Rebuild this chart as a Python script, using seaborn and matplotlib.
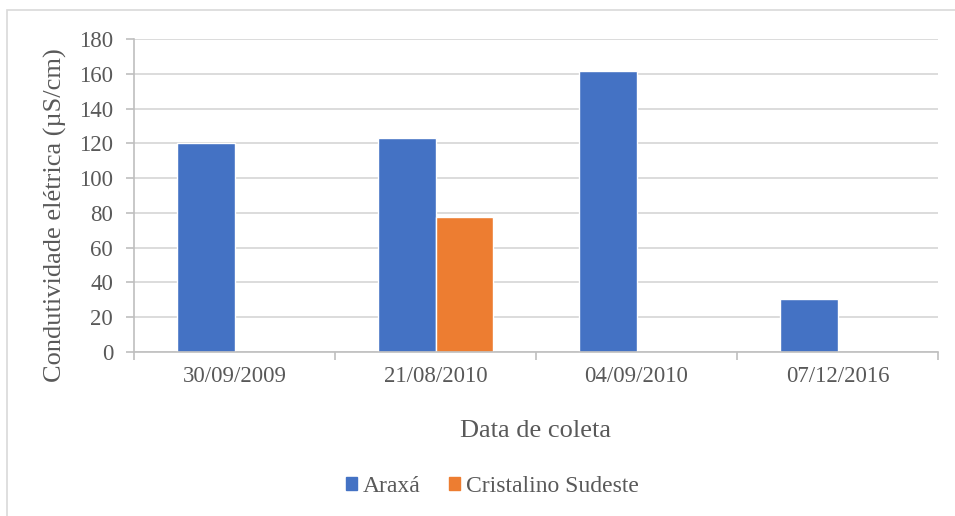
import matplotlib
matplotlib.use("Agg")
import matplotlib.pyplot as plt
from matplotlib.patches import Rectangle
import numpy as np
import pandas as pd
import seaborn as sns

# Sampling dates and electrical conductivity per geological unit
datas = ["30/09/2009", "21/08/2010", "04/09/2010", "07/12/2016"]
araxa = [120, 123, 161.5, 30.5]
cristalino = [np.nan, 77.5, np.nan, np.nan]
series_names = ["Araxá", "Cristalino Sudeste"]
colors = ["#4472C4", "#ED7D31"]
yticks = [0, 20, 40, 60, 80, 100, 120, 140, 160, 180]

df = pd.DataFrame({
    "Data": datas * 2,
    "Unidade": [series_names[0]] * len(datas) + [series_names[1]] * len(datas),
    "Condutividade": araxa + cristalino,
})

sns.set_theme(style="white")
plt.rcParams["font.family"] = ["Liberation Serif", "DejaVu Serif"]
text_color = "#595959"
grid_color = "#D9D9D9"
axis_color = "#BFBFBF"

W, H = 955, 516
fig = plt.figure(figsize=(W / 100, H / 100), dpi=100)
ax = fig.add_axes([134 / W, 1 - 352 / H, 804 / W, 313 / H])

sns.barplot(data=df, x="Data", y="Condutividade", hue="Unidade",
            order=datas, hue_order=series_names, palette=colors,
            width=0.57, saturation=1, ax=ax, legend=False)

ax.set_xlim(-0.5, len(datas) - 0.5)
ax.set_ylim(0, 180)
ax.set_yticks(yticks)
ax.set_yticklabels([str(v) for v in yticks])
ax.yaxis.grid(True, color=grid_color, linewidth=1.3)
ax.set_axisbelow(True)

for s in ["top", "right"]:
    ax.spines[s].set_visible(False)
for s in ["left", "bottom"]:
    ax.spines[s].set_color(axis_color)
    ax.spines[s].set_linewidth(1.2)

ax.tick_params(axis="y", which="major", length=6, width=1.2, color=axis_color,
               labelsize=16.5, labelcolor=text_color, pad=9, left=True)
ax.tick_params(axis="x", which="major", length=0, labelsize=16.5,
               labelcolor=text_color, pad=10)
ax.set_xticks(np.arange(-0.5, len(datas)), minor=True)
ax.tick_params(axis="x", which="minor", length=6, width=1.2, color=axis_color,
               bottom=True)

ax.set_xlabel("Data de coleta", fontsize=19, color=text_color, va="center")
ax.xaxis.set_label_coords(0.5, (352 - 431) / 313)
ax.set_ylabel("Condutividade elétrica (µS/cm)", fontsize=19, color=text_color,
              va="center")
ax.yaxis.set_label_coords((55 - 134) / 804, (352 - 215) / 313)

handles = [Rectangle((0, 0), 1, 1, color=c) for c in colors]
fig.legend(handles, series_names, loc="center",
           bbox_to_anchor=(492 / W, 1 - 486 / H),
           ncol=2, frameon=False, fontsize=17, labelcolor=text_color,
           handlelength=0.47, handleheight=0.47, handletextpad=0.25,
           columnspacing=1.2, borderpad=0, borderaxespad=0)

# Chart frame
fig.patches.append(Rectangle((7 / W, -0.05), 1.0, 1 - 10 / H + 0.05,
                             transform=fig.transFigure, fill=False,
                             edgecolor="#D9D9D9", linewidth=1.2))

fig.savefig("out.png", dpi=100)
